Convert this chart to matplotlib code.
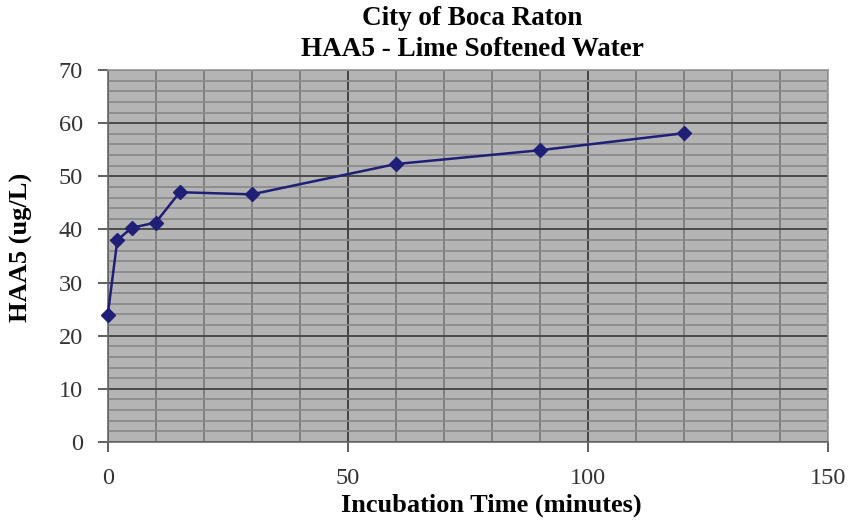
import matplotlib
matplotlib.use('Agg')
import matplotlib.pyplot as plt
from matplotlib.ticker import MultipleLocator

plt.rcParams['font.family'] = ['Liberation Serif', 'DejaVu Serif']

# incubation time (minutes) and HAA5 (ug/L)
time_min = [0, 2, 5, 10, 15, 30, 60, 90, 120]
haa5 = [23.9, 38.0, 40.3, 41.3, 47.0, 46.6, 52.3, 54.9, 58.1]

title_lines = ['City of Boca Raton', 'HAA5 - Lime Softened Water']

fig = plt.figure(figsize=(8.64, 5.27), dpi=100)
ax = fig.add_axes([0.1247, 0.1613, 0.8336, 0.7059])
ax.set_facecolor('#b4b4b4')

ax.set_xlim(0, 150)
ax.set_ylim(0, 70)
ax.xaxis.set_major_locator(MultipleLocator(50))
ax.xaxis.set_minor_locator(MultipleLocator(10))
ax.yaxis.set_major_locator(MultipleLocator(10))
ax.yaxis.set_minor_locator(MultipleLocator(2))

# grid: major dark, minor mid gray
ax.grid(which='minor', axis='y', color='#8a8a8a', lw=1.3)
ax.grid(which='minor', axis='x', color='#7c7c7c', lw=1.3)
ax.grid(which='major', axis='y', color='#4a4a4a', lw=1.4)
ax.grid(which='major', axis='x', color='#3a3a3a', lw=1.3)
ax.set_axisbelow(True)

ax.plot(time_min, haa5, color='#1f1f78', lw=1.8, marker='D', ms=7,
        markerfacecolor='#1f1f78', markeredgecolor='#1f1f78', clip_on=False, zorder=3)

for s in ax.spines.values():
    s.set_color('#6a6a6a')
    s.set_linewidth(1.2)
ax.spines['top'].set_color('#9a9a9a')
ax.spines['right'].set_color('#9a9a9a')

ax.tick_params(which='major', direction='out', length=7, width=1.2, color='#444444',
               labelsize=17.5, labelcolor='#333333')
ax.tick_params(axis='x', pad=12)
ax.tick_params(axis='y', pad=11)
ax.tick_params(which='minor', length=0)

fig.text(0.569, 0.042, 'Incubation Time (minutes)', ha='center', va='center',
         fontsize=19, fontweight='bold')
fig.text(0.025, 0.53, 'HAA5 (ug/L)', ha='center', va='center', rotation=90,
         fontsize=19, fontweight='bold')

fig.text(0.547, 0.964, title_lines[0], ha='center', va='center', fontsize=19.5, fontweight='bold')
fig.text(0.547, 0.907, title_lines[1], ha='center', va='center', fontsize=19.5, fontweight='bold')

fig.savefig('out.png', dpi=100)
